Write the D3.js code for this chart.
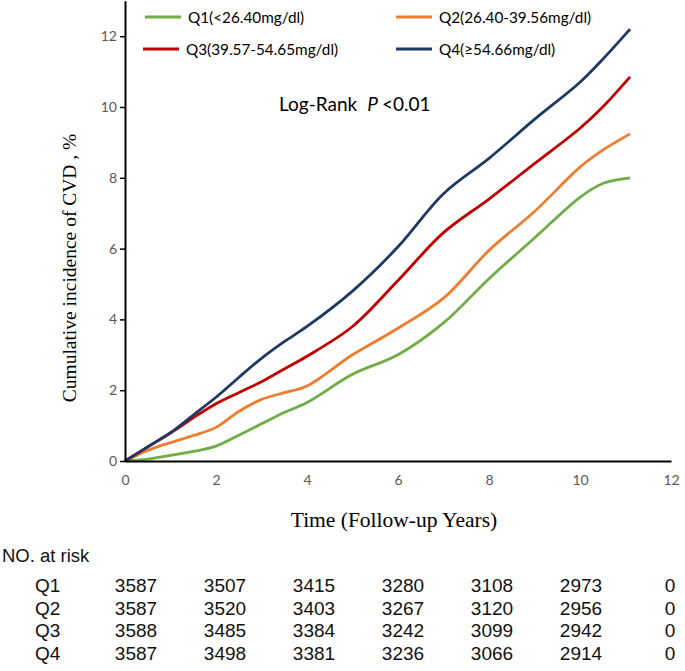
<!DOCTYPE html>
<html>
<head>
<meta charset="utf-8">
<script src="https://cdn.jsdelivr.net/npm/d3@7"></script>
<style>
  html, body { margin: 0; padding: 0; background: #fff; }
  svg { display: block; }
</style>
</head>
<body>
<svg id="chart" width="685" height="671"></svg>
<script>
// ---- data ----
const times = [0, 0.5, 1, 1.5, 2, 2.5, 3, 3.5, 4, 5, 6, 7, 8, 9, 10, 10.5, 11.1];
const q1 = [0, 0.05, 0.16, 0.27, 0.42, 0.73, 1.05, 1.37, 1.65, 2.45, 3.0, 3.9, 5.15, 6.3, 7.45, 7.84, 8.0];
const q2 = [0, 0.3, 0.52, 0.72, 0.95, 1.4, 1.74, 1.93, 2.12, 3.0, 3.75, 4.6, 5.95, 7.05, 8.3, 8.78, 9.24];
const q3 = [0, 0.4, 0.79, 1.22, 1.62, 1.93, 2.24, 2.6, 2.96, 3.8, 5.1, 6.45, 7.4, 8.4, 9.4, 10.0, 10.85];
const q4 = [0, 0.4, 0.8, 1.3, 1.8, 2.36, 2.9, 3.37, 3.8, 4.8, 6.05, 7.55, 8.55, 9.65, 10.7, 11.35, 12.2];
const seriesNames = ["Q1(<26.40mg/dl)", "Q2(26.40-39.56mg/dl)", "Q3(39.57-54.65mg/dl)", "Q4(\u226554.66mg/dl)"];
const seriesColors = ["#70AD47", "#ED7D31", "#C00000", "#203864"];
const xTicks = [0, 2, 4, 6, 8, 10, 12];
const yTicks = [0, 2, 4, 6, 8, 10, 12];
const riskGroups = ["Q1", "Q2", "Q3", "Q4"];
const riskQ1 = [3587, 3507, 3415, 3280, 3108, 2973, 0];
const riskQ2 = [3587, 3520, 3403, 3267, 3120, 2956, 0];
const riskQ3 = [3588, 3485, 3384, 3242, 3099, 2942, 0];
const riskQ4 = [3587, 3498, 3381, 3236, 3066, 2914, 0];

const allSeries = [q1, q2, q3, q4];
const riskRows = [riskQ1, riskQ2, riskQ3, riskQ4];

const svg = d3.select("#chart");
const x = d3.scaleLinear().domain([0, 12]).range([125, 671]);
const y = d3.scaleLinear().domain([0, 13]).range([461, 0.8]);

const sans = "Lato, 'Open Sans', sans-serif";
const serif = "'Liberation Serif', 'Times New Roman', serif";
const arial = "'Liberation Sans', Arial, sans-serif";

// lines
const line = d3.line().x((d, i) => x(times[i])).y(d => y(d)).curve(d3.curveCatmullRom.alpha(0.5));
svg.append("g").selectAll("path").data(allSeries).join("path")
  .attr("d", d => line(d))
  .attr("fill", "none")
  .attr("stroke", (d, i) => seriesColors[i])
  .attr("stroke-width", 2.8)
  .attr("stroke-linejoin", "round");

// y axis
const yAxis = svg.append("g").attr("transform", `translate(${x(0)},0)`)
  .call(d3.axisLeft(y).tickValues(yTicks).tickSize(5).tickSizeOuter(0).tickPadding(3));
yAxis.select(".domain").attr("stroke", "#000").attr("stroke-width", 2);
yAxis.selectAll(".tick line").attr("stroke", "#000").attr("stroke-width", 1.5);
yAxis.selectAll(".tick text").attr("font-family", sans).attr("font-size", 14).attr("fill", "#595959");

// x axis
const xAxis = svg.append("g").attr("transform", `translate(0,${y(0)})`)
  .call(d3.axisBottom(x).tickValues(xTicks).tickSize(0).tickSizeOuter(0).tickPadding(14));
xAxis.select(".domain").attr("stroke", "#000").attr("stroke-width", 2.2);
xAxis.selectAll(".tick text").attr("font-family", sans).attr("font-size", 14).attr("fill", "#595959");

// axis titles
svg.append("text")
  .attr("transform", `translate(76,${(140 + 396) / 2}) rotate(-90)`)
  .attr("text-anchor", "middle")
  .attr("font-family", serif).attr("font-size", 19.5).attr("fill", "#000")
  .text("Cumulative incidence of CVD , %");
svg.append("text")
  .attr("x", 394).attr("y", 527)
  .attr("text-anchor", "middle")
  .attr("font-family", serif).attr("font-size", 21.5).attr("fill", "#000")
  .text("Time (Follow-up Years)");

// legend
const legPos = [[145, 17], [396, 17], [143, 49], [396, 49]];
const leg = svg.append("g").selectAll("g").data(seriesNames).join("g")
  .attr("transform", (d, i) => `translate(${legPos[i][0]},${legPos[i][1]})`);
leg.append("line").attr("x1", 0).attr("x2", 36).attr("y1", 0).attr("y2", 0)
  .attr("stroke", (d, i) => seriesColors[i]).attr("stroke-width", 3);
leg.append("text").attr("x", 43).attr("y", 5.5)
  .attr("font-family", sans).attr("font-size", 15.3).attr("fill", "#000")
  .text(d => d);

// log-rank
const lr = svg.append("text").attr("x", 279).attr("y", 111)
  .attr("font-family", sans).attr("font-size", 19).attr("fill", "#000");
lr.append("tspan").text("Log-Rank");
lr.append("tspan").attr("dx", 10).attr("font-style", "italic").text("P");
lr.append("tspan").attr("dx", 4).text("<0.01");

// risk table
svg.append("text").attr("x", 2).attr("y", 562)
  .attr("font-family", arial).attr("font-size", 18.5).attr("fill", "#111")
  .text("NO. at risk");
const colX = d3.scaleLinear().domain([0, 6]).range([136, 670]);
const rowY = d3.scaleLinear().domain([0, 3]).range([592, 660]);
const rows = svg.append("g").selectAll("g").data(riskRows).join("g")
  .attr("transform", (d, i) => `translate(0,${rowY(i)})`);
rows.append("text").attr("x", 35).attr("y", 0)
  .attr("font-family", arial).attr("font-size", 19).attr("fill", "#111")
  .text((d, i) => riskGroups[i]);
rows.selectAll("text.num").data(d => d).join("text").attr("class", "num")
  .attr("x", (d, i) => colX(i)).attr("y", 0)
  .attr("text-anchor", "middle")
  .attr("font-family", arial).attr("font-size", 19).attr("fill", "#111")
  .text(d => d);
</script>
</body>
</html>
